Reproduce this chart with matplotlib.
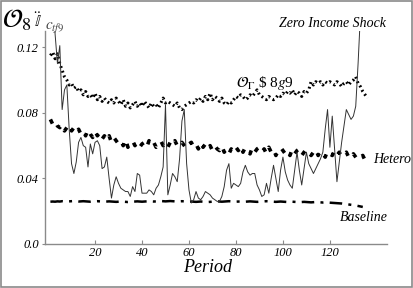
import matplotlib
matplotlib.use("Agg")
import matplotlib.pyplot as plt
from matplotlib.patches import Rectangle

plt.rcParams['font.family'] = ['Liberation Serif', 'DejaVu Serif']
plt.rcParams['mathtext.fontset'] = 'stix'

# dotted series (top)
ctf9 = [0.115, 0.117, 0.113, 0.116, 0.110, 0.106, 0.102, 0.100, 0.097, 0.098,
        0.095, 0.096, 0.093, 0.094, 0.091, 0.093, 0.090, 0.091, 0.089, 0.092,
        0.088, 0.090, 0.087, 0.089, 0.087, 0.086, 0.088, 0.086, 0.089, 0.087,
        0.085, 0.088, 0.084, 0.086, 0.083, 0.085, 0.087, 0.084, 0.086, 0.084,
        0.087, 0.085, 0.083, 0.086, 0.084, 0.085, 0.083, 0.086, 0.089, 0.086,
        0.087, 0.086, 0.085, 0.084, 0.086, 0.083, 0.082, 0.084, 0.085, 0.086,
        0.087, 0.086, 0.088, 0.087, 0.089, 0.087, 0.090, 0.088, 0.092, 0.088,
        0.090, 0.089, 0.087, 0.089, 0.086, 0.085, 0.087, 0.086, 0.088, 0.090,
        0.089, 0.091, 0.090, 0.088, 0.089, 0.091, 0.090, 0.092, 0.094, 0.091,
        0.090, 0.089, 0.088, 0.090, 0.089, 0.088, 0.089, 0.091, 0.090, 0.092,
        0.091, 0.093, 0.092, 0.094, 0.091, 0.093, 0.092, 0.090, 0.093, 0.092,
        0.094, 0.099, 0.097, 0.099, 0.098, 0.099, 0.097, 0.099, 0.098, 0.099,
        0.098, 0.097, 0.099, 0.098, 0.096, 0.098, 0.099, 0.097, 0.099, 0.100,
        0.102, 0.098, 0.096, 0.093, 0.091, 0.089]

hetero = [0.076, 0.073, 0.075, 0.072, 0.071, 0.073, 0.069, 0.071, 0.073, 0.069,
          0.071, 0.068, 0.070, 0.067, 0.069, 0.066, 0.070, 0.067, 0.065, 0.069,
          0.066, 0.068, 0.064, 0.066, 0.063, 0.066, 0.062, 0.065, 0.063, 0.061,
          0.063, 0.060, 0.064, 0.059, 0.062, 0.063, 0.060, 0.062, 0.059, 0.061,
          0.062, 0.059, 0.063, 0.060, 0.062, 0.059, 0.061, 0.063, 0.060, 0.062,
          0.059, 0.062, 0.060, 0.063, 0.060, 0.059, 0.062, 0.060, 0.058, 0.061,
          0.062, 0.059, 0.061, 0.058, 0.062, 0.059, 0.061, 0.058, 0.060, 0.057,
          0.060, 0.058, 0.057, 0.060, 0.056, 0.058, 0.055, 0.058, 0.056, 0.059,
          0.057, 0.060, 0.056, 0.059, 0.057, 0.055, 0.059, 0.056, 0.058, 0.059,
          0.056, 0.058, 0.055, 0.059, 0.056, 0.058, 0.054, 0.057, 0.059, 0.057,
          0.055, 0.057, 0.054, 0.058, 0.055, 0.057, 0.058, 0.054, 0.056, 0.058,
          0.056, 0.054, 0.056, 0.058, 0.054, 0.057, 0.055, 0.053, 0.057, 0.055,
          0.054, 0.057, 0.054, 0.056, 0.053, 0.055, 0.056, 0.053, 0.052, 0.055,
          0.053, 0.051, 0.053, 0.054, 0.051, 0.053]

baseline = [0.0258, 0.0259, 0.0258, 0.0260, 0.0259, 0.0261, 0.0260, 0.0259, 0.0260, 0.0261,
            0.0262, 0.0260, 0.0259, 0.0260, 0.0261, 0.0260, 0.0259, 0.0258, 0.0259, 0.0260,
            0.0261, 0.0260, 0.0259, 0.0258, 0.0259, 0.0260, 0.0259, 0.0258, 0.0257, 0.0258,
            0.0259, 0.0258, 0.0257, 0.0256, 0.0257, 0.0258, 0.0259, 0.0260, 0.0259, 0.0258,
            0.0259, 0.0260, 0.0261, 0.0260, 0.0259, 0.0260, 0.0261, 0.0262, 0.0261, 0.0260,
            0.0261, 0.0262, 0.0261, 0.0260, 0.0259, 0.0260, 0.0261, 0.0260, 0.0259, 0.0258,
            0.0259, 0.0258, 0.0257, 0.0258, 0.0259, 0.0258, 0.0257, 0.0256, 0.0257, 0.0258,
            0.0259, 0.0260, 0.0259, 0.0258, 0.0259, 0.0260, 0.0261, 0.0260, 0.0259, 0.0258,
            0.0259, 0.0258, 0.0257, 0.0258, 0.0259, 0.0260, 0.0259, 0.0258, 0.0257, 0.0258,
            0.0259, 0.0260, 0.0261, 0.0260, 0.0259, 0.0258, 0.0257, 0.0258, 0.0259, 0.0258,
            0.0257, 0.0256, 0.0257, 0.0258, 0.0257, 0.0256, 0.0255, 0.0256, 0.0257, 0.0256,
            0.0255, 0.0254, 0.0255, 0.0256, 0.0255, 0.0254, 0.0253, 0.0254, 0.0253, 0.0252,
            0.0251, 0.0250, 0.0249, 0.0248, 0.0247, 0.0245, 0.0243, 0.0241, 0.0239, 0.0237,
            0.0235, 0.0232, 0.0229, 0.0226]

zero_income = [0.180, 0.150, 0.128, 0.110, 0.121, 0.082, 0.094, 0.097, 0.070, 0.049,
               0.043, 0.050, 0.062, 0.065, 0.060, 0.059, 0.047, 0.061, 0.055, 0.062,
               0.063, 0.060, 0.046, 0.047, 0.053, 0.040, 0.028, 0.036, 0.041, 0.037,
               0.034, 0.033, 0.032, 0.032, 0.029, 0.035, 0.032, 0.043, 0.042, 0.031,
               0.031, 0.031, 0.033, 0.032, 0.030, 0.034, 0.036, 0.041, 0.047, 0.085,
               0.030, 0.036, 0.043, 0.041, 0.038, 0.052, 0.075, 0.082, 0.049, 0.033,
               0.025, 0.027, 0.032, 0.028, 0.027, 0.029, 0.032, 0.031, 0.030, 0.028,
               0.027, 0.026, 0.026, 0.029, 0.035, 0.045, 0.049, 0.034, 0.037, 0.036,
               0.035, 0.037, 0.044, 0.048, 0.044, 0.042, 0.043, 0.043, 0.036, 0.033,
               0.029, 0.030, 0.037, 0.031, 0.040, 0.048, 0.040, 0.032, 0.045, 0.053,
               0.044, 0.039, 0.036, 0.034, 0.045, 0.056, 0.045, 0.036, 0.046, 0.056,
               0.049, 0.046, 0.043, 0.046, 0.049, 0.052, 0.056, 0.070, 0.082, 0.059,
               0.078, 0.058, 0.038, 0.050, 0.062, 0.072, 0.082, 0.079, 0.076, 0.078,
               0.084, 0.110, 0.140]

xticks = [20, 40, 60, 80, 100, 120]
yticks = [0.0, 0.04, 0.08, 0.12]
ytick_labels = ['0.0', '0.04', '0.08', '0.12']

grey = '#8a8a8a'

fig = plt.figure(figsize=(4.14, 2.88), dpi=100)
ax = fig.add_axes([0.1087, 0.1528, 0.826, 0.740])

ax.plot(range(1, len(ctf9) + 1), ctf9, color='black', lw=2.2,
        linestyle=(0, (0.6, 1.0)), dash_capstyle='butt')
ax.plot(range(1, len(hetero) + 1), hetero, color='black', lw=2.6,
        linestyle=(0, (1.3, 2.6)))
ax.plot(range(1, len(baseline) + 1), baseline, color='black', lw=1.8,
        linestyle=(0, (5, 2.5, 1.2, 2.5)))
ax.plot(range(1, len(zero_income) + 1), zero_income, color='#333333', lw=0.7)

ax.set_xlim(-1.3, 144.3)
ax.set_ylim(0, 0.130)
ax.set_xticks(xticks)
ax.set_xticklabels([str(t) for t in xticks], fontstyle='italic', fontsize=9)
ax.set_yticks(yticks)
ax.set_yticklabels(ytick_labels, fontstyle='italic', fontsize=9)
ax.tick_params(axis='x', direction='in', length=3, width=0.8, color=grey, pad=2)
ax.tick_params(axis='y', direction='out', length=2.5, width=0.8, color=grey, pad=2)
for s in ['top', 'right']:
    ax.spines[s].set_visible(False)
for s in ['left', 'bottom']:
    ax.spines[s].set_color(grey)
    ax.spines[s].set_linewidth(1.0)

ax.text(144, 0.1325, 'Zero Income Shock', ha='right', va='baseline',
        fontsize=10, fontstyle='italic', clip_on=False)
ax.text(138.3, 0.0495, 'Hetero', ha='left', va='baseline',
        fontsize=10, fontstyle='italic', clip_on=False)
ax.text(124.3, 0.014, 'Baseline', ha='left', va='baseline',
        fontsize=10, fontstyle='italic')
ax.text(80, 0.096, r'$\mathcal{O}_{\Gamma}$ \$ 8$g$9', ha='left', va='baseline',
        fontsize=11)

fig.text(0.502, 0.055, 'Period', ha='center', va='baseline',
         fontsize=13, fontstyle='italic')
fig.text(0.006, 0.905, r'$\mathbf{\mathcal{O}}_{8}$', ha='left', va='baseline',
         fontsize=19)
fig.text(0.083, 0.905, r'$\ddot{\mathbb{I}}$', ha='left', va='baseline', fontsize=12)
fig.text(0.108, 0.9, r'$c_{tf9}$', ha='left', va='baseline', fontsize=11, color='#444444')

fig.patches.append(Rectangle((0.002, 0.002), 0.994, 0.994, transform=fig.transFigure,
                             fill=False, edgecolor=grey, lw=1.2))

fig.savefig('out.png', dpi=100)
